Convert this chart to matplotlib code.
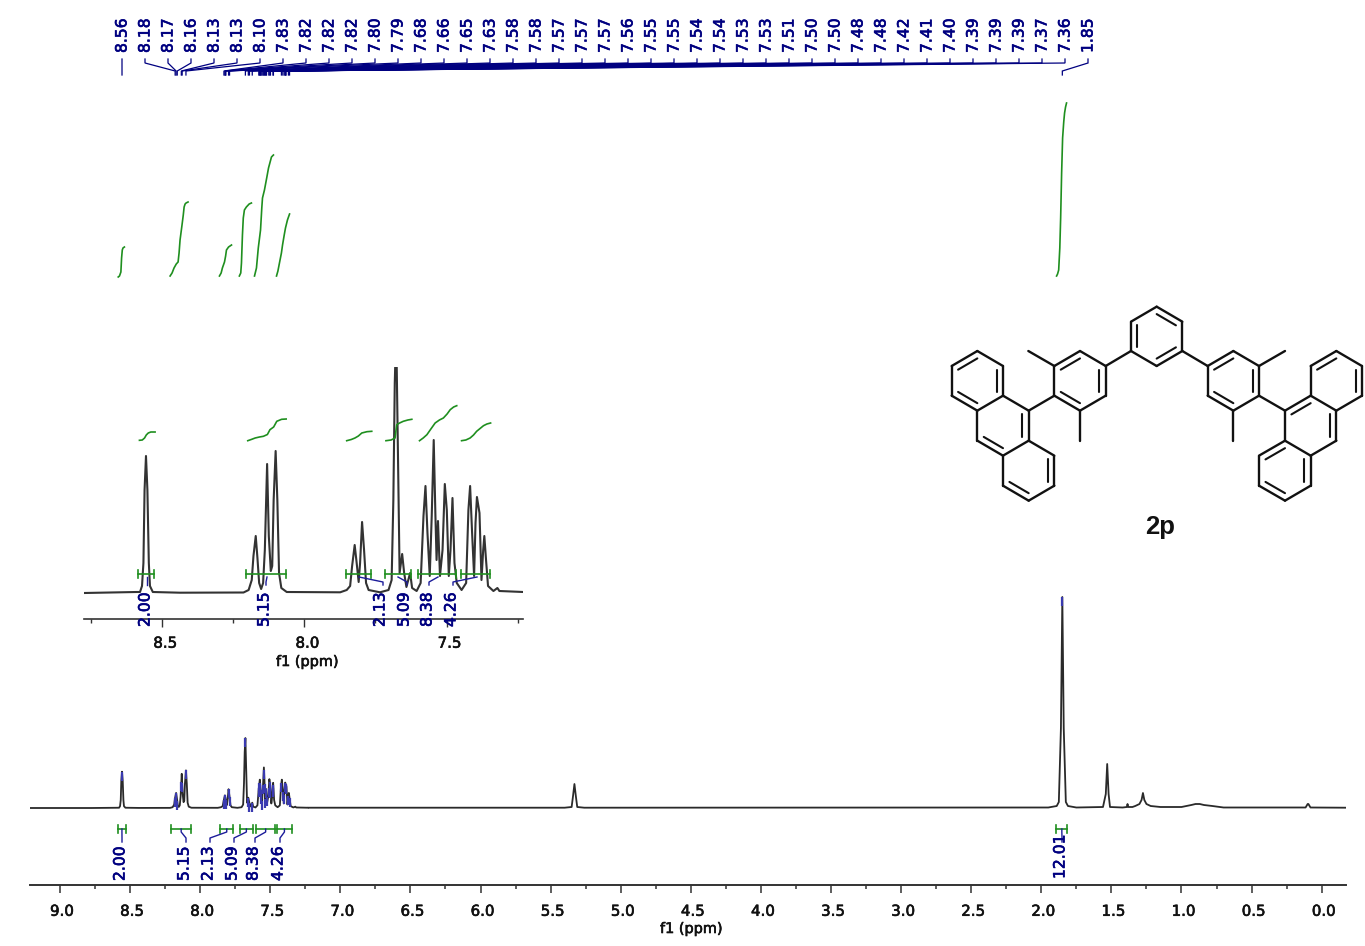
import numpy as np
import matplotlib
matplotlib.use("Agg")
import matplotlib.pyplot as plt
import matplotlib.patheffects as pe
from matplotlib.transforms import ScaledTranslation

# ---------- data ----------
arom_ppm = [8.775,8.590,8.578,8.571,8.566,8.562,8.557,8.552,8.547,8.543,8.533,8.437,8.214,8.196,8.185,8.179,8.171,8.165,8.159,8.152,
            8.145,8.139,8.131,8.125,8.118,8.113,8.108,8.101,8.095,8.089,8.081,8.062,7.874,7.851,7.839,7.832,7.823,7.816,7.809,7.804,
            7.797,7.790,7.783,7.774,7.734,7.704,7.693,7.687,7.682,7.677,7.671,7.665,7.656,7.649,7.641,7.628,7.621,7.605,7.591,7.581,
            7.574,7.567,7.559,7.552,7.545,7.539,7.535,7.530,7.523,7.514,7.506,7.499,7.492,7.486,7.479,7.472,7.464,7.447,7.431,7.423,
            7.417,7.410,7.403,7.398,7.393,7.384,7.377,7.371,7.367,7.361,7.354,7.335,7.321,7.314,7.230]
arom_int = [0,1,1,7,30,103,137,103,30,7,1,0.3,0.5,3,13,37,57,35,10,4,
            10,43,129,57,22,27,93,142,93,20,5,1,0.7,3,7,27,48,30,11,30,
            71,43,10,3,0.7,3,13,93,210,264,143,20,39,20,6,20,5,2,10,77,
            107,60,17,77,153,77,33,72,17,43,109,83,17,43,95,30,10,3,10,83,
            107,60,17,70,96,80,13,43,57,33,7,2,5,2,1]
far_ppm = [7.23,5.40,5.35,5.34,5.33,5.32,5.31,5.26,1.95,1.89,1.875,1.86,1.85,1.84,1.825,1.81,1.75,1.56,1.54,1.53,1.52,1.51,
           1.42,1.39,1.385,1.38,1.35,1.33,1.30,1.285,1.275,1.265,1.25,1.22,1.15,1.00,0.93,0.90,0.87,0.84,0.78,0.70,0.115,0.10,0.095,0.08,-0.17]
far_int = [0.3,0.3,1,12,24,12,1,0.3,0.5,2,6,80,211,80,6,2,0.5,1,14,44,14,1,
           0.5,1,4,1,1,2,4,8,15,8,4,2,1,1,3,4,4,3,2,0.5,0.5,4,4,0.5,0.3]

shift_labels = ["8.56","8.18","8.17","8.16","8.13","8.13","8.10","7.83","7.82","7.82","7.82","7.80","7.79","7.68","7.66","7.65",
                "7.63","7.58","7.58","7.57","7.57","7.57","7.56","7.55","7.55","7.54","7.54","7.53","7.53","7.51","7.50","7.50",
                "7.48","7.48","7.42","7.41","7.40","7.39","7.39","7.39","7.37","7.36","1.85"]
shift_ppm = [8.557,8.178,8.171,8.163,8.134,8.128,8.101,7.830,7.823,7.820,7.816,7.797,7.790,7.677,7.656,7.648,
             7.628,7.581,7.577,7.572,7.568,7.565,7.558,7.551,7.546,7.540,7.535,7.530,7.526,7.510,7.503,7.498,
             7.480,7.477,7.420,7.410,7.400,7.393,7.390,7.387,7.370,7.362,1.850]

integral_labels = ["2.00","5.15","2.13","5.09","8.38","4.26","12.01"]
integral_lo = [8.585,8.205,7.855,7.715,7.600,7.450,1.893]
integral_hi = [8.530,8.065,7.765,7.625,7.465,7.347,1.814]

curve_main = [
    ([8.584,8.575,8.565,8.560,8.555,8.550,8.540],[531,532,536,550,558,560,561]),
    ([8.214,8.200,8.186,8.170,8.157,8.150,8.143,8.129,8.120,8.114,8.107,8.100,8.086],[532,535,540,544,546,555,568,583,593,601,604,605,606]),
    ([7.862,7.850,7.841,7.826,7.818,7.812,7.797,7.776],[532,535,540,546,552,558,561,563]),
    ([7.720,7.710,7.705,7.698,7.692,7.684,7.670,7.650,7.634],[532,535,545,573,590,598,601,604,605]),
    ([7.612,7.598,7.585,7.569,7.560,7.555,7.541,7.525,7.512,7.491,7.477],[532,540,560,578,600,610,618,630,640,651,653]),
    ([7.455,7.445,7.434,7.420,7.412,7.400,7.391,7.377,7.362],[532,537,545,555,563,573,580,588,594]),
    ([1.891,1.884,1.876,1.868,1.862,1.855,1.848,1.840,1.834,1.827,1.820],[532,534,538,560,590,635,670,686,695,701,705]),
]
curve_inset = [
    ([8.580,8.570,8.562,8.556,8.549,8.540,8.525],[152.7,153,155,158,160,161,161]),
    ([8.199,8.185,8.173,8.158,8.144,8.130,8.121,8.108,8.097,8.080,8.064],[152.3,153.7,155,156,156.7,158.5,163.3,166,171.7,173.7,174]),
    ([7.851,7.835,7.822,7.810,7.798,7.780,7.763],[152.3,153.5,155,157,160,161.3,161.7]),
    ([7.713,7.695,7.681,7.678,7.675,7.665,7.652,7.636,7.622],[152.3,153,155,162,168.3,170,171.7,173,173.7]),
    ([7.595,7.582,7.569,7.555,7.540,7.525,7.511,7.498,7.487,7.475,7.464],[152.3,155,158.3,164,170,173,175,179,183.3,186,187.3]),
    ([7.447,7.432,7.417,7.405,7.394,7.382,7.370,7.358,7.345],[152.3,153,155,158,161.7,164.5,167.3,169,170]),
]

# structure drawing (positions on the reference crop)
bonds = [((650,35),(727,80)),((727,80),(727,168)),((727,168),(650,213)),((650,213),(573,168)),((573,168),(573,80)),((573,80),(650,35)),
         ((420,168),(497,213)),((497,213),(497,302)),((497,302),(420,347)),((420,347),(343,302)),((343,302),(343,213)),((343,213),(420,168)),
         ((497,213),(573,168)),((343,213),(265,168)),((420,347),(420,437)),((343,302),(266,347)),
         ((266,347),(189,302)),((189,302),(112,347)),((112,347),(112,437)),((112,437),(189,482)),((189,482),(266,437)),((266,437),(266,347)),
         ((189,302),(189,213)),((189,213),(112,168)),((112,168),(35,213)),((35,213),(35,302)),((35,302),(112,347)),
         ((189,482),(189,572)),((189,572),(266,617)),((266,617),(343,572)),((343,572),(343,482)),((343,482),(266,437)),
         ((880,168),(957,213)),((957,213),(957,302)),((957,302),(880,347)),((880,347),(803,302)),((803,302),(803,213)),((803,213),(880,168)),
         ((727,168),(803,213)),((957,213),(1035,168)),((880,347),(880,437)),((957,302),(1035,347)),
         ((1035,347),(1112,302)),((1112,302),(1189,347)),((1189,347),(1189,437)),((1189,437),(1112,482)),((1112,482),(1035,437)),((1035,437),(1035,347)),
         ((1112,302),(1112,213)),((1112,213),(1189,168)),((1189,168),(1266,213)),((1266,213),(1266,302)),((1266,302),(1189,347)),
         ((1112,482),(1112,572)),((1112,572),(1035,617)),((1035,617),(957,572)),((957,572),(957,482)),((957,482),(1035,437))]
inner = [((650,35),(727,80),(650,124)),((573,80),(573,168),(650,124)),((650,213),(727,168),(650,124)),
         ((343,213),(420,168),(420,257)),((497,213),(497,302),(420,257)),((343,302),(420,347),(420,257)),
         ((266,347),(266,437),(189,392)),((112,437),(189,482),(189,392)),
         ((189,213),(189,302),(112,257)),((112,168),(35,213),(112,257)),((35,302),(112,347),(112,257)),
         ((343,482),(343,572),(266,527)),((266,617),(189,572),(266,527)),
         ((803,213),(880,168),(880,257)),((957,213),(957,302),(880,257)),((803,302),(880,347),(880,257)),
         ((1035,347),(1112,302),(1112,392)),((1189,347),(1189,437),(1112,392)),
         ((1112,213),(1189,168),(1189,257)),((1266,213),(1266,302),(1189,257)),
         ((1035,437),(957,482),(1035,527)),((957,572),(1035,617),(1035,527)),((1112,572),(1112,482),(1035,527))]

# ---------- style ----------
NAVY = "#000080"
BLUE = "#1c1c9a"
GREEN = "#1f8f1f"
TRACE = "#2a2a2a"
MAIN_SCALE = 0.265
W, H = 1365, 946
plt.rcParams['font.family'] = ['DejaVu Sans']

def heavy(color, width=0.45):
    return [pe.withStroke(linewidth=width, foreground=color)]

fig = plt.figure(figsize=(W/100, H/100), dpi=100)

def shift_ticklabels(axes, dx):
    off = ScaledTranslation(dx/100, 0, fig.dpi_scale_trans)
    for t in axes.get_xticklabels():
        t.set_transform(t.get_transform() + off)
        t.set_path_effects(heavy("#111111"))

# main spectrum
ax = fig.add_axes([30/W, (H-885)/H, 1316/W, 885/H])
ax.patch.set_alpha(0)
ax.set_xlim(1291.7/140.2, -24.3/140.2)
ax.set_ylim(-77, 808)
for s in ["top", "left", "right"]:
    ax.spines[s].set_visible(False)
ax.spines["bottom"].set_color("#333333")
ax.spines["bottom"].set_linewidth(1.4)
ax.set_yticks([])
ax.set_xticks(np.arange(0, 9.01, 0.5))
ax.set_xticks(np.arange(0.25, 9.2, 0.5), minor=True)
ax.tick_params(axis="x", which="major", length=5.5, width=1.1, color="#333333", pad=8, labelsize=10.8, labelcolor="#111111")
ax.tick_params(axis="x", which="minor", length=3, width=1.1, color="#333333")
ax.xaxis.set_major_formatter(matplotlib.ticker.FormatStrFormatter("%.1f"))
shift_ticklabels(ax, 2)

arom_ppm = np.array(arom_ppm); arom_int = np.array(arom_int, float)
main_x = np.r_[1291.7/140.2, arom_ppm, far_ppm]
main_y = np.r_[0, arom_int*MAIN_SCALE, far_int]
ax.plot(main_x, main_y, color=TRACE, lw=1.3, solid_joinstyle="round")

# peak marks on main spectrum
order = np.argsort(main_x)
for p in shift_ppm:
    top = np.interp(p, main_x[order], main_y[order])
    ax.plot([p, p], [top, top-9], color="#3a3ab0", lw=1.6, solid_capstyle="butt")

# integral curves and brackets on main spectrum
for xs, ys in curve_main:
    ax.plot(xs, ys, color=GREEN, lw=1.2, solid_joinstyle="round")
for lo, hi in zip(integral_lo, integral_hi):
    ax.plot([lo, hi], [-21, -21], color=GREEN, lw=1.2)
    for e in (lo, hi):
        ax.plot([e, e], [-25, -17], color=GREEN, lw=1.2)

# inset
ins = fig.add_axes([84/W, (H-619)/H, 439/W, 252/H])
ins.patch.set_alpha(0)
ins.set_xlim(8.775, 7.231)
ins.set_ylim(-26, 226)
for s in ["top", "left", "right"]:
    ins.spines[s].set_visible(False)
ins.spines["bottom"].set_color("#333333")
ins.spines["bottom"].set_linewidth(1.2)
ins.set_yticks([])
ins.set_xticks([8.5, 8.0, 7.5])
ins.set_xticks([8.75, 8.25, 7.75, 7.25], minor=True)
ins.tick_params(axis="x", which="major", length=5.5, width=1.0, color="#333333", pad=6.5, labelsize=10.8, labelcolor="#111111")
ins.tick_params(axis="x", which="minor", length=3, width=1.0, color="#333333")
ins.xaxis.set_major_formatter(matplotlib.ticker.FormatStrFormatter("%.1f"))
shift_ticklabels(ins, 3)
ins.plot(arom_ppm, arom_int, color="#333333", lw=1.5, solid_joinstyle="round")
for xs, ys in curve_inset:
    ins.plot(xs, ys, color=GREEN, lw=1.2, solid_joinstyle="round")
for lo, hi in zip(integral_lo[:6], integral_hi[:6]):
    ins.plot([lo, hi], [19, 19], color=GREEN, lw=1.2)
    for e in (lo, hi):
        ins.plot([e, e], [15, 23], color=GREEN, lw=1.2)

# overlay in picture pixels for layout of labels, connectors and the structure
ov = fig.add_axes([0, 0, 1, 1])
ov.set_xlim(0, W); ov.set_ylim(H, 0); ov.axis("off"); ov.patch.set_alpha(0)

def px(axes, p):
    return axes.transData.transform((p, 0))[0]

def rot(x, y, s, **kw):
    t = ov.text(x, y, s, rotation=90, ha="center", va="bottom", color=NAVY, fontsize=11.2, **kw)
    t.set_path_effects(heavy(NAVY))

# top shift labels and fan of connectors
for i, (s, p) in enumerate(zip(shift_labels, shift_ppm)):
    lx = 122 + 23*i
    rot(lx, 53, s)
    pk = px(ax, p)
    ov.plot([lx, lx, pk, pk], [59, 63, 71, 75], color=NAVY, lw=0.9, solid_joinstyle="miter")

# integral labels below main spectrum
main_lab_x = [120, 184, 208, 232, 253, 278, 1060]
main_lab_y = [881, 881, 881, 881, 881, 881, 879]
for s, lx, ly, lo, hi in zip(integral_labels, main_lab_x, main_lab_y, integral_lo, integral_hi):
    rot(lx, ly, s)
    mid = (px(ax, lo)+px(ax, hi))/2
    ov.plot([mid, mid, lx+2, lx+2], [829, 832, 838, 842], color=BLUE, lw=1.0)

# integral labels in inset
ins_lab_x = [145, 264, 380, 404, 427, 451]
ins_link_top = [147, 267, 359, 398, 438, 477]
ins_link_end = [147, 266, 383, 407, 429, 453]
for s, lx, t, e in zip(integral_labels[:6], ins_lab_x, ins_link_top, ins_link_end):
    rot(lx, 627, s)
    ov.plot([t, t, e, e], [577, 577, 582, 585], color=BLUE, lw=1.0)

# structure
def to_fig(pt):
    return 940 + pt[0]/3, 295 + pt[1]/3

for a, b in bonds:
    (x0, y0), (x1, y1) = to_fig(a), to_fig(b)
    ov.plot([x0, x1], [y0, y1], color="#111111", lw=1.7, solid_capstyle="round")
for a, b, c in inner:
    a_, b_, c_ = [np.array(to_fig(q)) for q in (a, b, c)]
    a2 = a_ + (c_-a_)*0.25
    b2 = b_ + (c_-b_)*0.25
    ov.plot([a2[0], b2[0]], [a2[1], b2[1]], color="#111111", lw=1.5, solid_capstyle="round")

ov.text(1160, 527, "2p", ha="center", va="center", family="Liberation Sans", fontweight="bold",
        fontsize=18.5, color="#111111")
for x, y in [(307, 662), (691, 929)]:
    t = ov.text(x, y, "f1 (ppm)", ha="center", va="center", fontsize=10.4, color="#111111")
    t.set_path_effects(heavy("#111111"))

fig.savefig("out.png", dpi=100)
